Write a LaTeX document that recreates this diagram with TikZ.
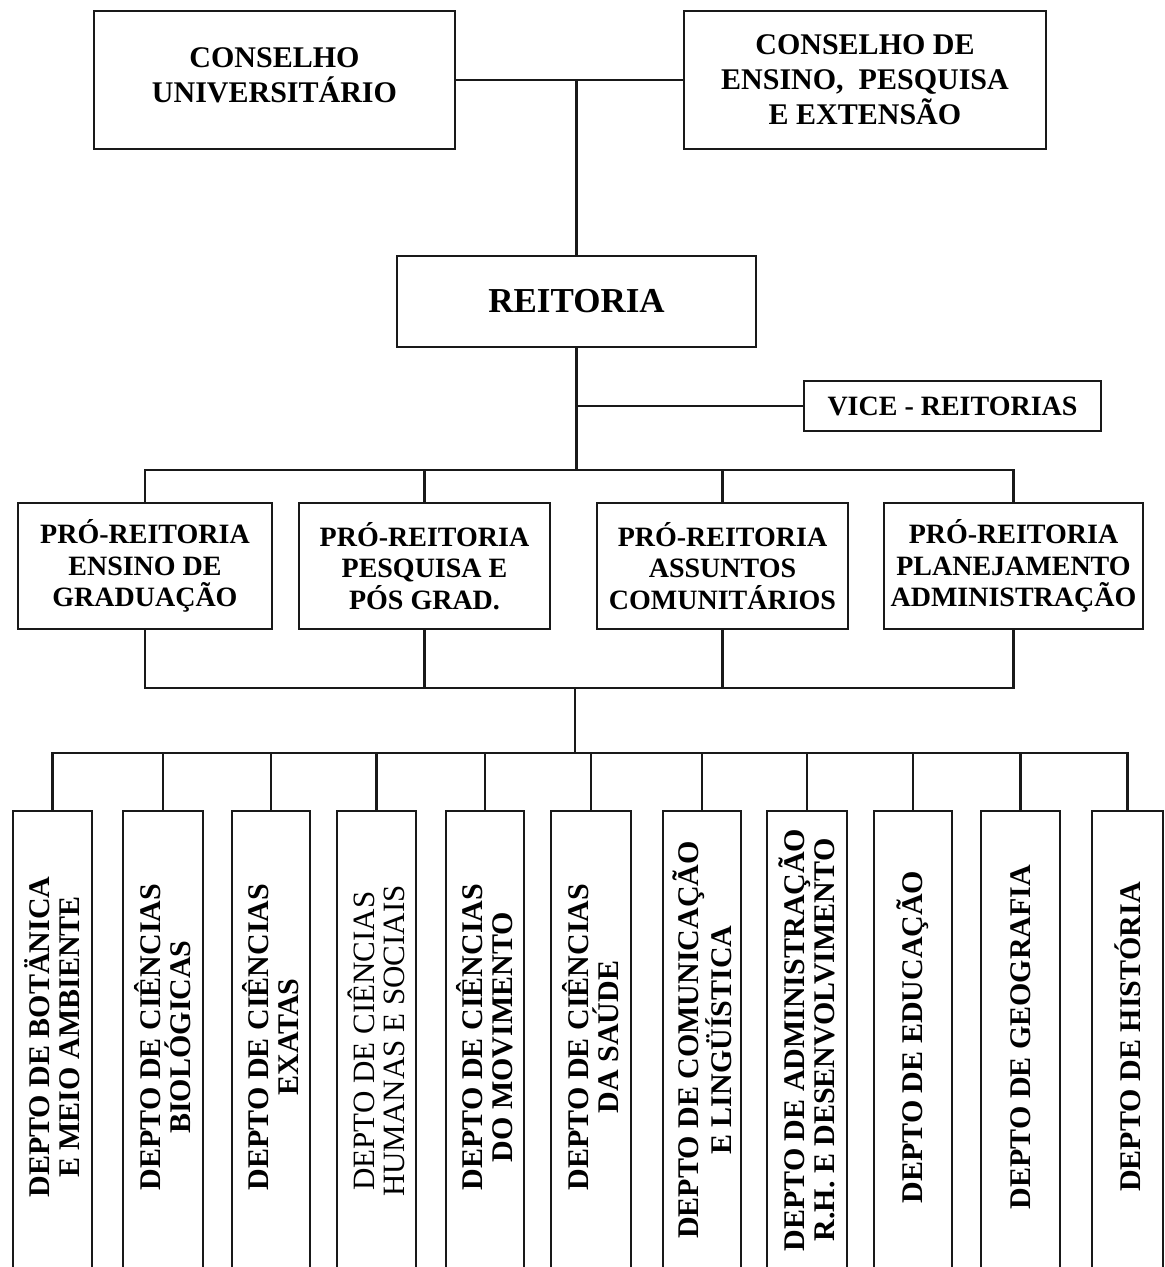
\documentclass[tikz,border=0pt]{standalone}
\usepackage{fontspec}
\setmainfont{Liberation Serif}
\begin{document}
\begin{tikzpicture}[x=1pt,y=-1pt,
  every node/.style={inner sep=0pt, outer sep=0pt},
  orgbox/.style={draw=black!90, line width=2.3pt, anchor=north west, align=center, fill=white},
  link/.style={draw=black!90, line width=2.3pt},
  toptxt/.style={font=\bfseries\fontsize{30}{35}\selectfont},
  protxt/.style={font=\bfseries\fontsize{28}{31.5}\selectfont},
  depttxt/.style={rotate=90, align=center, font=\bfseries\fontsize{30}{30}\selectfont},
  deptreg/.style={rotate=90, align=center, font=\fontsize{31}{30}\selectfont}]
\useasboundingbox (0,0) rectangle (1165,1267);
\path[clip] (0,0) rectangle (1165,1267);

% top level
\node[orgbox, minimum width=361pt, minimum height=138pt] (cu) at (94,11) {};
\path (cu.center) ++(0,-5) node[toptxt, align=center] (cut) {CONSELHO\\UNIVERSITÁRIO};
\node[orgbox, toptxt, minimum width=362pt, minimum height=138pt] (cepe) at (684,11) {CONSELHO DE\\ENSINO,\ \ PESQUISA\\E EXTENSÃO};
\node[orgbox, font=\bfseries\fontsize{35}{40}\selectfont, minimum width=359pt, minimum height=91pt] (reit) at (397,256) {REITORIA};
\node[orgbox, font=\bfseries\fontsize{28}{32}\selectfont, minimum width=297pt, minimum height=50pt] (vice) at (804,381) {VICE - REITORIAS};

% pro-reitorias
\node[orgbox, protxt, minimum width=254pt, minimum height=126pt] (p1) at (18,503) {PRÓ-REITORIA\\ENSINO DE\\GRADUAÇÃO};
\node[orgbox, protxt, minimum width=251pt, minimum height=126pt] (p2) at (299,503) {PRÓ-REITORIA\\PESQUISA E\\PÓS GRAD.};
\node[orgbox, protxt, minimum width=251pt, minimum height=126pt] (p3) at (597,503) {PRÓ-REITORIA\\ASSUNTOS\\COMUNITÁRIOS};
\node[orgbox, protxt, minimum width=259pt, minimum height=126pt] (p4) at (884,503) {PRÓ-REITORIA\\PLANEJAMENTO\\ADMINISTRAÇÃO};

% departments (boxes run past the lower edge)
\node[orgbox, minimum width=79pt, minimum height=480pt] (d1) at (13,811) {};
\node[orgbox, minimum width=80pt, minimum height=480pt] (d2) at (123,811) {};
\node[orgbox, minimum width=78pt, minimum height=480pt] (d3) at (232,811) {};
\node[orgbox, minimum width=79pt, minimum height=480pt] (d4) at (337,811) {};
\node[orgbox, minimum width=78pt, minimum height=480pt] (d5) at (446,811) {};
\node[orgbox, minimum width=80pt, minimum height=480pt] (d6) at (551,811) {};
\node[orgbox, minimum width=78pt, minimum height=480pt] (d7) at (663,811) {};
\node[orgbox, minimum width=80pt, minimum height=480pt] (d8) at (767,811) {};
\node[orgbox, minimum width=78pt, minimum height=480pt] (d9) at (874,811) {};
\node[orgbox, minimum width=79pt, minimum height=480pt] (d10) at (981,811) {};
\node[orgbox, minimum width=71pt, minimum height=480pt] (d11) at (1092,811) {};

\path (d1.north) ++(0,226) node[depttxt] (t1) {DEPTO DE BOTÄNICA\\E MEIO AMBIENTE};
\path (d2.north) ++(0,226) node[depttxt] (t2) {DEPTO DE CIÊNCIAS\\BIOLÓGICAS};
\path (d3.north) ++(0,226) node[depttxt] (t3) {DEPTO DE CIÊNCIAS\\EXATAS};
\path (d4.north) ++(0,230) node[deptreg] (t4) {DEPTO DE CIÊNCIAS\\HUMANAS E SOCIAIS};
\path (d5.north) ++(0,226) node[depttxt] (t5) {DEPTO DE CIÊNCIAS\\DO MOVIMENTO};
\path (d6.north) ++(0,226) node[depttxt] (t6) {DEPTO DE CIÊNCIAS\\DA SAÚDE};
\path (d7.north) ++(0,229) node[depttxt] (t7) {DEPTO DE COMUNICAÇÃO\\E LINGÜÍSTICA};
\path (d8.north) ++(0,229) node[depttxt] (t8) {DEPTO DE ADMINISTRAÇÃO\\R.H. E DESENVOLVIMENTO};
\path (d9.north) ++(0,226) node[depttxt] (t9) {DEPTO DE EDUCAÇÃO};
\path (d10.north) ++(0,226) node[depttxt] (t10) {DEPTO DE GEOGRAFIA};
\path (d11.north) ++(0,226) node[depttxt] (t11) {DEPTO DE HISTÓRIA};

% junctions
\coordinate (jp) at (575,470);
\coordinate (jl) at (575,688);
\coordinate (jd) at (575,753);

% connectors
\draw[link] (cu.east) -- (cepe.west);
\draw[link] (reit.north) -- (reit.north |- cu.east);
\draw[link] (reit.south) -- (reit.south |- jp);
\draw[link] (vice.west) -- (vice.west -| reit.south);

\draw[link] (p1.north) -- (p1.north |- jp) -- (p4.north |- jp) -- (p4.north);
\draw[link] (p2.north) -- (p2.north |- jp);
\draw[link] (p3.north) -- (p3.north |- jp);

\draw[link] (p1.south) -- (p1.south |- jl) -- (p4.south |- jl) -- (p4.south);
\draw[link] (p2.south) -- (p2.south |- jl);
\draw[link] (p3.south) -- (p3.south |- jl);
\draw[link] (jl) -- (jd);

\draw[link] (d1.north) -- (d1.north |- jd) -- (d11.north |- jd) -- (d11.north);
\foreach \i in {2,...,10} {\draw[link] (d\i.north) -- (d\i.north |- jd);}
\end{tikzpicture}
\end{document}
